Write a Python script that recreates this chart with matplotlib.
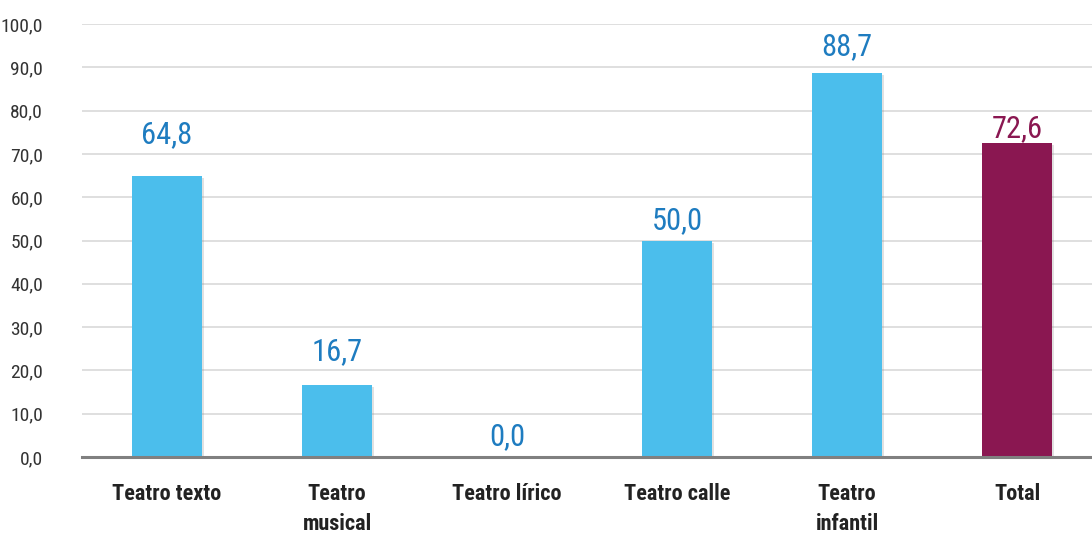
import matplotlib.pyplot as plt
import matplotlib.patheffects as pe

categories = ['Teatro texto', 'Teatro\nmusical', 'Teatro lírico',
              'Teatro calle', 'Teatro\ninfantil', 'Total']
values = [64.8, 16.7, 0.0, 50.0, 88.7, 72.6]
yticks = [0, 10, 20, 30, 40, 50, 60, 70, 80, 90, 100]

blue = '#4BBEEC'
blue_txt = '#1E7CC0'
wine = '#8A1751'
bar_colors = [blue] * 5 + [wine]
label_colors = [blue_txt] * 5 + [wine]
label_pad = [42, 33, 20, 20, 26, 14]  # px above bar top

plt.rcParams['font.family'] = ['Roboto Condensed', 'DejaVu Sans']

fig = plt.figure(figsize=(10.92, 5.36), dpi=100)
ax = fig.add_axes([82 / 1092, 1 - 457 / 536, 1 - 82 / 1092, (457 - 24) / 536])

x = list(range(len(categories)))
ax.bar(x, values, width=0.41, color=bar_colors, zorder=3,
       path_effects=[pe.SimplePatchShadow(offset=(1.5, -1.5), alpha=0.25, shadow_rgbFace='#888888'),
                     pe.Normal()])

for xi, v, c, p in zip(x, values, label_colors, label_pad):
    ax.annotate(f'{v:.1f}'.replace('.', ','), (xi, v), xytext=(0, p * 0.72),
                textcoords='offset points', ha='center', va='center',
                fontsize=22, color=c)

ax.set_ylim(0, 100)
ax.set_xlim(-0.5, 5.44)
ax.set_yticks(yticks)
ax.set_yticklabels([f'{t:.1f}'.replace('.', ',') for t in yticks], fontsize=14, color='#333333')
ax.set_xticks(x)
ax.set_xticklabels(categories, fontsize=16, fontweight='bold', color='#222222',
                   linespacing=1.45, va='top')
ax.tick_params(axis='y', length=0, pad=28)
ax.tick_params(axis='x', length=0, pad=19)

ax.grid(axis='y', color='#D9D9D9', linewidth=1.2, zorder=0)
for s in ['top', 'right', 'left']:
    ax.spines[s].set_visible(False)
ax.spines['bottom'].set_color('#808080')
ax.spines['bottom'].set_linewidth(2.2)
ax.spines['bottom'].set_zorder(4)

fig.savefig('out.png', dpi=100)
